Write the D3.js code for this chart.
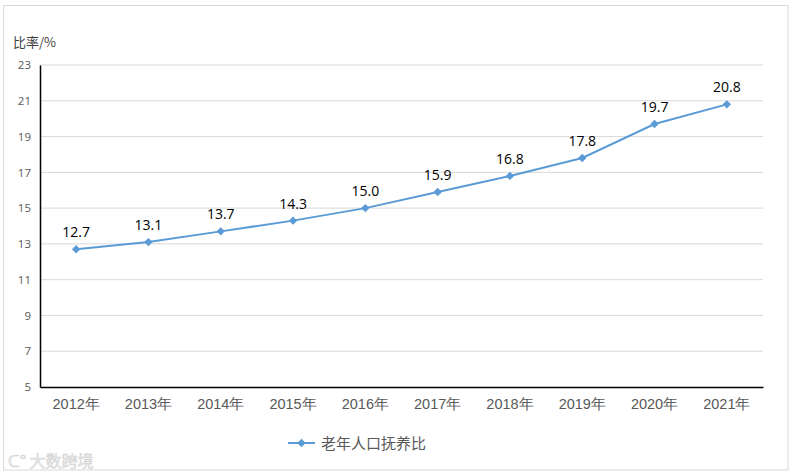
<!DOCTYPE html>
<html><head><meta charset="utf-8">
<script src="https://cdn.jsdelivr.net/npm/d3@7"></script>
<style>body{margin:0;background:#fff;} svg{display:block;font-family:"Noto Sans CJK SC","Open Sans",sans-serif;}</style>
</head><body>
<svg id="c" width="794" height="476"></svg>
<script>
const years = ["2012年","2013年","2014年","2015年","2016年","2017年","2018年","2019年","2020年","2021年"];
const values = [12.7,13.1,13.7,14.3,15.0,15.9,16.8,17.8,19.7,20.8];
const yTicks = [5,7,9,11,13,15,17,19,21,23];
const seriesName = "老年人口抚养比";
const yTitle = "比率/%";

const svg = d3.select("#c");
const m = {l:40, r:763, t:65, b:387};
const color = "#5b9bd5";

svg.append("rect").attr("x",3.5).attr("y",5.5).attr("width",784.5).attr("height",464.5)
  .attr("fill","#fff").attr("stroke","#d9d9d9");

const x = d3.scaleBand().domain(years).range([m.l, m.r]);
const y = d3.scaleLinear().domain([5,23]).range([m.b, m.t]);

// grid
svg.append("g").selectAll("line").data(yTicks.filter(d=>d>5)).join("line")
  .attr("x1",m.l).attr("x2",m.r).attr("y1",d=>y(d)).attr("y2",d=>y(d))
  .attr("stroke","#d9d9d9").attr("stroke-width",1);

// y axis
const ya = svg.append("g").attr("transform",`translate(${m.l},0)`)
  .call(d3.axisLeft(y).tickValues(yTicks).tickSize(0).tickPadding(9));
ya.select(".domain").attr("stroke","#000").attr("stroke-width",1.5);
ya.selectAll("text").attr("font-size",11.5).attr("fill","#595959").attr("font-family","Open Sans, sans-serif");

// x axis
const xa = svg.append("g").attr("transform",`translate(0,${m.b})`)
  .call(d3.axisBottom(x).tickSize(0).tickPadding(12));
xa.select(".domain").attr("stroke","#000").attr("stroke-width",1.5);
xa.selectAll("text").attr("font-size",14.5).attr("fill","#595959");

// y title
svg.append("text").attr("x",13).attr("y",47).attr("font-size",13).attr("fill","#404040").text(yTitle);

// line
const line = d3.line().x((d,i)=>x(years[i])+x.bandwidth()/2).y(d=>y(d));
svg.append("path").datum(values).attr("d",line).attr("fill","none")
  .attr("stroke",color).attr("stroke-width",2);

const diamond = "M0,-4.2L4.2,0L0,4.2L-4.2,0Z";
svg.append("g").selectAll("path").data(values).join("path")
  .attr("d",diamond)
  .attr("transform",(d,i)=>`translate(${x(years[i])+x.bandwidth()/2},${y(d)})`)
  .attr("fill",color);

svg.append("g").selectAll("text").data(values).join("text")
  .attr("x",(d,i)=>x(years[i])+x.bandwidth()/2)
  .attr("y",d=>y(d)-12)
  .attr("text-anchor","middle").attr("font-size",14).attr("fill","#000")
  .attr("font-family","Open Sans, sans-serif")
  .text(d=>d.toFixed(1));

// legend
const lg = svg.append("g").attr("transform","translate(288,443)");
lg.append("line").attr("x1",0).attr("x2",27).attr("y1",0).attr("y2",0).attr("stroke",color).attr("stroke-width",2);
lg.append("path").attr("d",diamond).attr("transform","translate(13.5,0)").attr("fill",color);
lg.append("text").attr("x",33).attr("y",5.5).attr("font-size",15).attr("fill","#595959").text(seriesName);

// watermark
svg.append("text").attr("x",8).attr("y",467).attr("font-size",16).attr("fill","#ececec")
  .attr("stroke","#d0d0d0").attr("stroke-width",0.5).text("ᑕ° 大数跨境");
</script>
</body></html>
